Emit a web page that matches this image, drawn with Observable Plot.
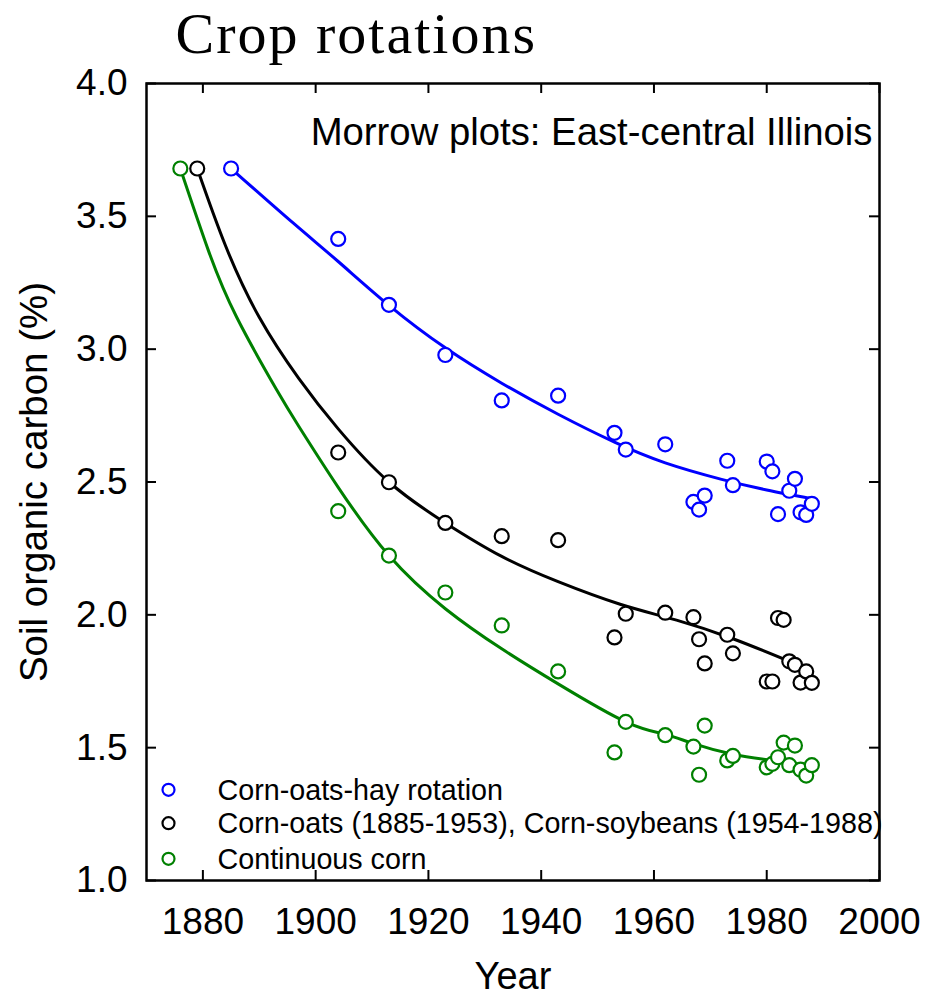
<!DOCTYPE html>
<html>
<head>
<meta charset="utf-8">
<script src="https://cdn.jsdelivr.net/npm/d3@7"></script>
<script src="https://cdn.jsdelivr.net/npm/@observablehq/plot@0.6"></script>
<style>body{margin:0;background:#fff}</style>
</head>
<body>
<div id="chart"></div>
<script>
// ---- Data ----
const seriesLabels = [
  "Corn-oats-hay rotation",
  "Corn-oats (1885-1953), Corn-soybeans (1954-1988)",
  "Continuous corn"
];
const seriesColors = ["#0000ff", "#000000", "#008000"];

// Observed points
const hayYears  = [1885,1904,1913,1923,1933,1943,1953,1955,1962,1967,1968,1969,1973,1974,1980,1981,1982,1984,1985,1986,1987,1988];
const hayValues = [3.68,3.415,3.167,2.978,2.807,2.825,2.685,2.622,2.642,2.425,2.396,2.449,2.580,2.488,2.577,2.540,2.379,2.467,2.512,2.386,2.376,2.418];

const oatsYears  = [1879,1904,1913,1923,1933,1943,1953,1955,1962,1967,1968,1969,1973,1974,1980,1981,1982,1983,1984,1985,1986,1987,1988];
const oatsValues = [3.68,2.611,2.499,2.346,2.296,2.281,1.915,2.004,2.008,1.991,1.908,1.817,1.925,1.855,1.749,1.749,1.988,1.981,1.825,1.812,1.745,1.787,1.744];

const cornYears  = [1876,1904,1913,1923,1933,1943,1953,1955,1962,1967,1968,1969,1973,1974,1980,1981,1982,1983,1984,1985,1986,1987,1988];
const cornValues = [3.68,2.390,2.223,2.084,1.960,1.787,1.482,1.597,1.547,1.504,1.398,1.583,1.452,1.469,1.426,1.439,1.464,1.519,1.434,1.508,1.417,1.395,1.434];

// Fitted curves
const hayFitYears  = [1885,1896,1904,1913,1923,1933,1943,1953,1962,1972,1980,1988];
const hayFitValues = [3.68,3.475,3.33,3.165,3.005,2.872,2.755,2.650,2.572,2.510,2.470,2.437];

const oatsFitYears  = [1879,1884,1890,1897,1904,1913,1923,1933,1943,1954,1964,1974,1984];
const oatsFitValues = [3.68,3.39,3.12,2.89,2.70,2.50,2.346,2.22,2.125,2.04,1.98,1.91,1.825];

const cornFitYears  = [1876,1881,1886,1893,1897,1904,1913,1923,1933,1943,1955,1962,1967,1974,1981];
const cornFitValues = [3.68,3.37,3.12,2.85,2.71,2.48,2.223,2.023,1.872,1.740,1.597,1.55,1.515,1.475,1.452];

// Axes
const xTicks = [1880,1900,1920,1940,1960,1980,2000];
const yTicks = [1.0,1.5,2.0,2.5,3.0,3.5,4.0];

const title = "Crop rotations";
const subtitle = "Morrow plots: East-central Illinois";
const xLabel = "Year";
const yLabel = "Soil organic carbon (%)";

// ---- Build ----
const toRows = (xs, vs) => xs.map((x, i) => ({year: x, carbon: vs[i]}));
const pointSets = [toRows(hayYears, hayValues), toRows(oatsYears, oatsValues), toRows(cornYears, cornValues)];
const fitSets = [toRows(hayFitYears, hayFitValues), toRows(oatsFitYears, oatsFitValues), toRows(cornFitYears, cornFitValues)];

const W = 926, H = 995;
const mL = 146, mR = 47, mT = 83, mB = 115;
const plotW = W - mL - mR, plotH = H - mT - mB;
const tickLen = 10;
const sans = "Liberation Sans, Arial, Helvetica, sans-serif";

const marks = [];
fitSets.forEach((rows, i) => {
  marks.push(Plot.line(rows, {x: "year", y: "carbon", stroke: seriesColors[i], strokeWidth: 3, curve: "natural"}));
});
pointSets.forEach((rows, i) => {
  marks.push(Plot.dot(rows, {x: "year", y: "carbon", r: 7, stroke: seriesColors[i], strokeWidth: 2.2, fill: "white"}));
});
// inward ticks on all four sides
marks.push(Plot.tickX(xTicks, {x: d => d, insetTop: plotH - tickLen, stroke: "black", strokeWidth: 2}));
marks.push(Plot.tickX(xTicks, {x: d => d, insetBottom: plotH - tickLen, stroke: "black", strokeWidth: 2}));
marks.push(Plot.tickY(yTicks, {y: d => d, insetRight: plotW - tickLen, stroke: "black", strokeWidth: 2}));
marks.push(Plot.tickY(yTicks, {y: d => d, insetLeft: plotW - tickLen, stroke: "black", strokeWidth: 2}));
marks.push(Plot.frame({stroke: "black", strokeWidth: 2.5}));
// tick labels
marks.push(Plot.axisX({ticks: xTicks, tickSize: 0, tickPadding: 27, fontSize: 37, tickFormat: d => String(d), label: null, fontFamily: sans}));
marks.push(Plot.axisY({ticks: yTicks, tickSize: 0, tickPadding: 19, fontSize: 37, tickFormat: d => d.toFixed(1), label: null, fontFamily: sans}));
// axis titles
marks.push(Plot.text([xLabel], {text: d => d, frameAnchor: "bottom", dy: 108, lineAnchor: "bottom", textAnchor: "middle", fontSize: 38, fontFamily: sans}));
marks.push(Plot.text([yLabel], {text: d => d, frameAnchor: "left", dx: -100, rotate: -90, lineAnchor: "bottom", textAnchor: "middle", fontSize: 38.5, fontFamily: sans}));
// title and subtitle
marks.push(Plot.text([title], {text: d => d, frameAnchor: "top-left", dx: 29, dy: -31, lineAnchor: "bottom", textAnchor: "start", fontSize: 58, fontFamily: "Liberation Serif, Times New Roman, serif"}));
marks.push(Plot.text([subtitle], {text: d => d, frameAnchor: "top-right", dx: -7, dy: 61, lineAnchor: "bottom", textAnchor: "end", fontSize: 38.3, fontFamily: sans}));
// legend
const legendDotDy = [-90.7, -57.3, -21.7];
const legendTextDy = [-80.7, -47.3, -11.7];
seriesLabels.forEach((lab, i) => {
  marks.push(Plot.dot([lab], {frameAnchor: "bottom-left", dx: 22, dy: legendDotDy[i], r: 6, stroke: seriesColors[i], strokeWidth: 2.2, fill: "none"}));
  marks.push(Plot.text([lab], {text: d => d, frameAnchor: "bottom-left", dx: 71, dy: legendTextDy[i], lineAnchor: "bottom", textAnchor: "start", fontSize: 28.7, fontFamily: sans}));
});

const chart = Plot.plot({
  width: W,
  height: H,
  marginLeft: mL,
  marginRight: mR,
  marginTop: mT,
  marginBottom: mB,
  style: {background: "white", color: "black", fontFamily: sans, overflow: "visible"},
  x: {domain: [1870, 2000]},
  y: {domain: [1.0, 4.0]},
  marks
});
// widen the serif title slightly to match the reference's letter spacing
d3.select(chart).selectAll("text").filter(function() { return this.textContent === title; }).attr("letter-spacing", "2");
document.getElementById("chart").appendChild(chart);
</script>
</body>
</html>
